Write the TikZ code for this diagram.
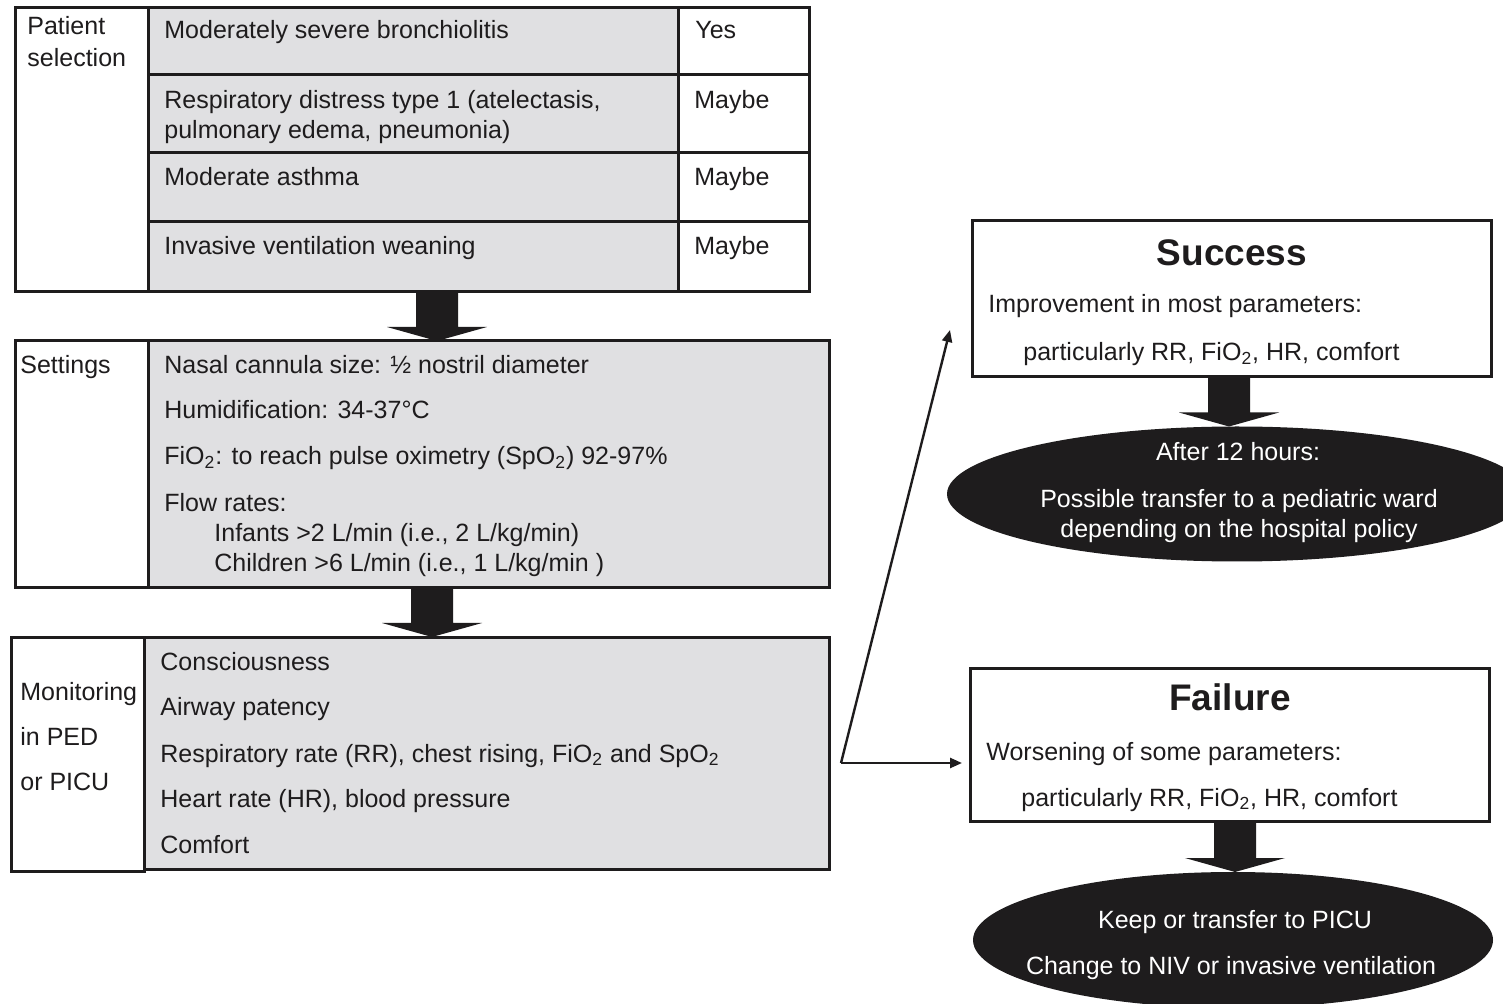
\documentclass[tikz,border=0pt]{standalone}
\usepackage{fontspec}
\setmainfont{Liberation Sans}
\usetikzlibrary{calc,shapes.geometric,arrows.meta}
\definecolor{cellgray}{RGB}{224,224,226}
\definecolor{ink}{RGB}{30,28,29}
\newcommand\blockarrow[2]{%
  \fill[blockfill] ($(#1)+(-21,0)$) -- ($(#2)+(-21,-14)$) -- ($(#2)+(-50,-14)$) -- (#2)
    -- ($(#2)+(50,-14)$) -- ($(#2)+(21,-14)$) -- ($(#1)+(21,0)$) -- cycle;}
\begin{document}
\begin{tikzpicture}[x=0.5pt,y=-0.5pt,
  box/.style={draw=ink, line width=1.5pt, rectangle, inner sep=0pt, outer sep=0pt},
  graybox/.style={box, fill=cellgray},
  txt/.style={anchor=base west, inner sep=0pt, text=ink, font=\fontsize{12.5}{15}\selectfont},
  ctxt/.style={txt, anchor=base},
  wtxt/.style={ctxt, text=white},
  title/.style={anchor=base, inner sep=0pt, text=ink, font=\fontsize{18.5}{22}\selectfont\bfseries},
  blob/.style={ellipse, fill=ink, inner sep=0pt, outer sep=0pt},
  thin/.style={draw=ink, line width=1.2pt, -{Triangle[length=6pt,width=5pt]}},
  blockfill/.style={fill=ink}
]
\useasboundingbox (0,0) rectangle (1503,1004);
\clip (0,0) rectangle (1503,1004);
\fill[white] (0,0) rectangle (1503,1004);

% ---------- Patient selection ----------
\node[box, minimum width=66.5pt, minimum height=142pt] (psel) at (81.5,150) {};
\node[graybox, minimum width=265pt, minimum height=33.5pt] (r1) at (413,41.5) {};
\node[box, minimum width=65.5pt, minimum height=33.5pt] (r1a) at (743.5,41.5) {};
\node[graybox, minimum width=265pt, minimum height=39pt] (r2) at (413,114) {};
\node[box, minimum width=65.5pt, minimum height=39pt] (r2a) at (743.5,114) {};
\node[graybox, minimum width=265pt, minimum height=34.5pt] (r3) at (413,187.5) {};
\node[box, minimum width=65.5pt, minimum height=34.5pt] (r3a) at (743.5,187.5) {};
\node[graybox, minimum width=265pt, minimum height=35pt] (r4) at (413,257) {};
\node[box, minimum width=65.5pt, minimum height=35pt] (r4a) at (743.5,257) {};

% ---------- Settings ----------
\node[box, minimum width=66.5pt, minimum height=123.5pt] (setl) at (81.5,464.5) {};
\node[graybox, minimum width=340.5pt, minimum height=123.5pt] (setr) at (488.5,464.5) {};

% ---------- Monitoring ----------
\node[box, minimum width=66.5pt, minimum height=117pt] (monl) at (77.5,754) {};
\node[graybox, minimum width=342.5pt, minimum height=116pt] (monr) at (486.5,753) {};

% ---------- Success / Failure ----------
\node[box, minimum width=259.5pt, minimum height=78pt] (succ) at (1231.5,299) {};
\node[box, minimum width=259.5pt, minimum height=76.5pt] (fail) at (1229.5,744.5) {};
\node[blob, minimum width=290pt, minimum height=67.5pt] (e1) at (1237,494) {};
\node[blob, minimum width=260pt, minimum height=68pt] (e2) at (1233,940) {};

% ---------- block arrows ----------
\coordinate (a1s) at ($(psel.south west)+(422,0)$);
\coordinate (a1e) at (a1s |- setr.north);
\blockarrow{a1s}{a1e}
\coordinate (a2s) at ($(setl.south west)+(417,0)$);
\coordinate (a2e) at (a2s |- monr.north);
\blockarrow{a2s}{a2e}
\coordinate (a3s) at ($(succ.south)+(-2.5,0)$);
\coordinate (a3e) at (a3s |- e1.north);
\blockarrow{a3s}{a3e}
\coordinate (a4s) at ($(fail.south)+(5.5,0)$);
\coordinate (a4e) at (a4s |- e2.north);
\blockarrow{a4s}{a4e}

% ---------- thin connectors ----------
\coordinate (split) at ($(monr.east)+(12,10)$);
\coordinate (succin) at ($(succ.west)+(-22,31)$);
\coordinate (failin) at ($(split -| fail.west)+(-8,0)$);
\draw[thin] (split) -- (succin);
\draw[thin] (split) -- (failin);

% ---------- texts ----------
\node[txt] (tps1) at (27,35) {Patient};
\node[txt] (tps2) at (27,67) {selection};
\node[txt] (t11) at (164,39) {Moderately severe bronchiolitis};
\node[txt] (t12) at (695,39) {Yes};
\node[txt] (t21) at (164,109) {Respiratory distress type 1 (atelectasis,};
\node[txt] (t22) at (164,139) {pulmonary edema, pneumonia)};
\node[txt] (t23) at (694,109) {Maybe};
\node[txt] (t31) at (164,186) {Moderate asthma};
\node[txt] (t32) at (694,186) {Maybe};
\node[txt] (t41) at (164,255) {Invasive ventilation weaning};
\node[txt] (t42) at (694,255) {Maybe};

\node[txt] (ts0) at (20,374) {Settings};
\node[txt] (ts1) at (164,374) {Nasal cannula size: ½ nostril diameter};
\node[txt] (ts2) at (164,419) {Humidification: 34-37°C};
\node[txt] (ts3) at (164,465) {FiO\textsubscript{2}: to reach pulse oximetry (SpO\textsubscript{2}) 92-97\%};
\node[txt] (ts4) at (164,512) {Flow rates:};
\node[txt] (ts5) at (214,542) {Infants >2 L/min (i.e., 2 L/kg/min)};
\node[txt] (ts6) at (214,572) {Children >6 L/min (i.e., 1 L/kg/min )};

\node[txt] (tm1) at (20,700) {Monitoring};
\node[txt] (tm2) at (20,745) {in PED};
\node[txt] (tm3) at (20,790) {or PICU};
\node[txt] (tm4) at (160,670) {Consciousness};
\node[txt] (tm5) at (160,715) {Airway patency};
\node[txt] (tm6) at (160,762) {Respiratory rate (RR), chest rising, FiO\textsubscript{2} and SpO\textsubscript{2}};
\node[txt] (tm7) at (160,807) {Heart rate (HR), blood pressure};
\node[txt] (tm8) at (160,853) {Comfort};

\node[title] (tsu0) at (1232,266) {Success};
\node[txt] (tsu1) at (988,313) {Improvement in most parameters:};
\node[txt] (tsu2) at (1023,361) {particularly RR, FiO\textsubscript{2}, HR, comfort};
\node[wtxt] (te11) at (1238,461) {After 12 hours:};
\node[wtxt] (te12) at (1239,508) {Possible transfer to a pediatric ward};
\node[wtxt] (te13) at (1239,538) {depending on the hospital policy};

\node[title] (tfa0) at (1230,710) {Failure};
\node[txt] (tfa1) at (986,760) {Worsening of some parameters:};
\node[txt] (tfa2) at (1021,806) {particularly RR, FiO\textsubscript{2}, HR, comfort};
\node[wtxt] (te21) at (1235,928) {Keep or transfer to PICU};
\node[wtxt] (te22) at (1231,974) {Change to NIV or invasive ventilation};
\end{tikzpicture}
\end{document}
